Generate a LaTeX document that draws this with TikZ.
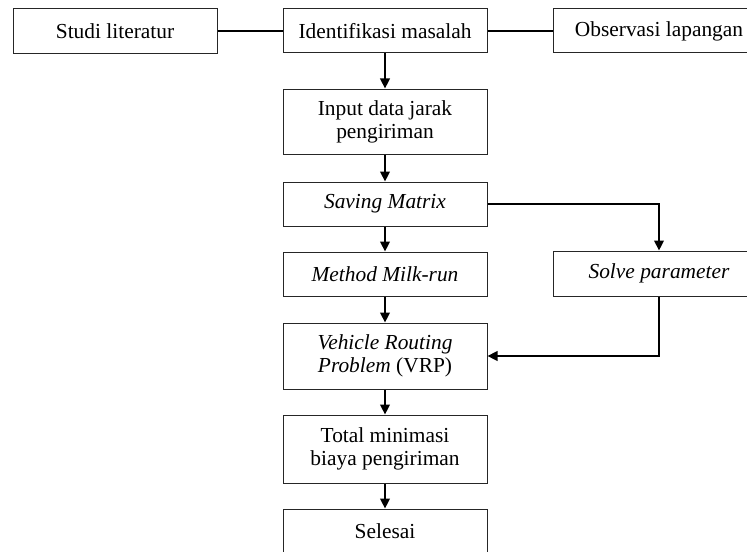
\documentclass[tikz,border=0pt]{standalone}
\usepackage{fontspec}
\setmainfont{Liberation Serif}
\usepackage{tikz}
\usetikzlibrary{arrows.meta, positioning}

\begin{document}
\begin{tikzpicture}[x=0.5pt, y=-0.5pt,
    font=\fontsize{10.7}{11.4}\selectfont,
    blok/.style={draw=black!85, line width=0.5pt, inner sep=0pt, align=center, minimum width=102pt},
    garis/.style={line width=1pt},
    panah/.style={line width=1pt, -{Triangle[length=5pt, width=4.8pt]}}]
    \useasboundingbox (0,0) rectangle (747,551);
    \clip (0,0) rectangle (747,551);
    \node[blok, minimum height=22.5pt] (studi) at (115,31) {Studi literatur};
    \node[blok, minimum height=22pt] (ident) at (385,31) {Identifikasi masalah};
    \node[blok, minimum height=22pt, minimum width=106pt] (obs) at (659,31) {Observasi lapangan};
    \node[blok, minimum height=32.5pt] (input) at (385,121.5) {Input data jarak\\pengiriman};
    \node[blok, minimum height=22pt] (saving) at (385,204) {\itshape Saving Matrix};
    \node[blok, minimum height=22pt] (method) at (385,274) {\itshape Method Milk-run};
    \node[blok, minimum height=22.5pt, minimum width=106pt] (solve) at (659,273.5) {\itshape Solve parameter};
    \node[blok, minimum height=33pt] (vrp) at (385,356) {\textit{Vehicle Routing}\\\textit{Problem} (VRP)};
    \node[blok, minimum height=34pt] (total) at (385,449) {Total minimasi\\biaya pengiriman};
    \node[blok, minimum height=22pt] (selesai) at (385,531) {Selesai};
    \draw[garis] (studi) -- (ident);
    \draw[garis] (ident) -- (obs);
    \draw[panah] (ident) -- (input);
    \draw[panah] (input) -- (saving);
    \draw[panah] (saving) -- (method);
    \draw[panah] (saving.east) -| (solve.north);
    \draw[panah] (method) -- (vrp);
    \draw[panah] (solve.south) |- (vrp.east);
    \draw[panah] (vrp) -- (total);
    \draw[panah] (total) -- (selesai);
\end{tikzpicture}
\end{document}
